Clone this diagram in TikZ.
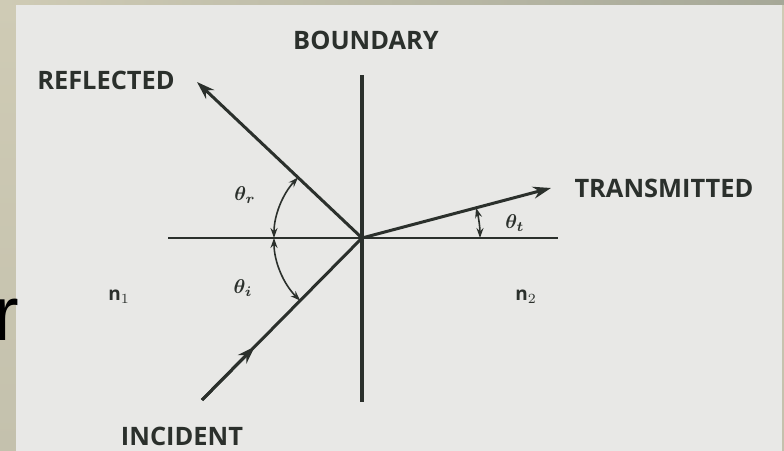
\documentclass[tikz,border=0pt]{standalone}
\usepackage{fontspec}
\setmainfont{Open Sans}
\newfontfamily\slidefontr{Liberation Sans}
\usetikzlibrary{arrows.meta,calc}
\definecolor{paper}{HTML}{E8E8E6}
\definecolor{ink}{HTML}{2B302C}
\definecolor{frameL}{HTML}{CFCBB5}
\definecolor{frameB}{HTML}{C4C1AD}
\definecolor{frameR}{HTML}{A6A898}
\tikzset{
  lbl/.style={font=\fontsize{12.7}{12.7}\selectfont\bfseries, text=ink, inner sep=0pt},
  ray/.style={draw=ink, line width=1.5pt, -{Stealth[length=9pt,width=6pt]}},
  ang/.style={draw=ink, line width=0.8pt, {Stealth[length=5pt,width=3.5pt]}-{Stealth[length=5pt,width=3.5pt]}},
  th/.style={text=ink, inner sep=0pt, font=\fontsize{10}{10}\selectfont\boldmath},
  nlbl/.style={text=ink, inner sep=0pt, font=\fontsize{9.5}{9.5}\selectfont\bfseries}
}
\begin{document}
\begin{tikzpicture}[x=0.5pt,y=0.5pt]
\useasboundingbox (0,0) rectangle (784,451);
\clip (0,0) rectangle (784,451);
% frame and paper
\shade[top color=frameL, bottom color=frameB] (0,0) rectangle (784,451);
\shade[left color=frameL, right color=frameR] (0,446) rectangle (784,451);
\fill[paper] (16,0) rectangle (782,446);
% cut-off slide letter
\node[anchor=base west, inner sep=0pt, font=\slidefontr\fontsize{38.5}{38.5}\selectfont] (r) at (-7,111) {r};
% geometry
\coordinate (O) at (362,213);
\coordinate (btop) at (362,376);
\coordinate (bbot) at (362,49);
\coordinate (hl) at (168,213);
\coordinate (hr) at (558,213);
\coordinate (inc) at (202,51);
\coordinate (refl) at (197,369);
\coordinate (trans) at (551,263);
\draw[ink, line width=2pt] (bbot) -- (btop);
\draw[ink, line width=1.1pt] (hl) -- (hr);
\draw[ray] (O) -- (refl);
\draw[ray] (O) -- (trans);
\draw[draw=ink, line width=1.5pt] (inc) -- (O);
\draw[ray] (inc) -- ($(inc)!0.33!(O)$);
% angle arcs
\draw[ang] ($(O)+(136.6:88)$) arc[start angle=136.6, end angle=180, radius=88];
\draw[ang] ($(O)+(180:88)$) arc[start angle=180, end angle=225.4, radius=88];
\draw[ang] ($(O)+(0:118)$) arc[start angle=0, end angle=14.8, radius=118];
% labels
\node[lbl] (boundary) at (366,411) {BOUNDARY};
\node[lbl] (reflected) at (106,371) {REFLECTED};
\node[lbl] (transmitted) at (664,263) {TRANSMITTED};
\node[lbl] (incident) at (182,15) {INCIDENT};
\node[nlbl] (n1) at (119,154) {n$_1$};
\node[nlbl] (n2) at (526,154) {n$_2$};
\node[th] (thr) at (245,256) {$\theta_r$};
\node[th] (thi) at (243,163) {$\theta_i$};
\node[th] (tht) at (515,228) {$\theta_t$};
\end{tikzpicture}
\end{document}
